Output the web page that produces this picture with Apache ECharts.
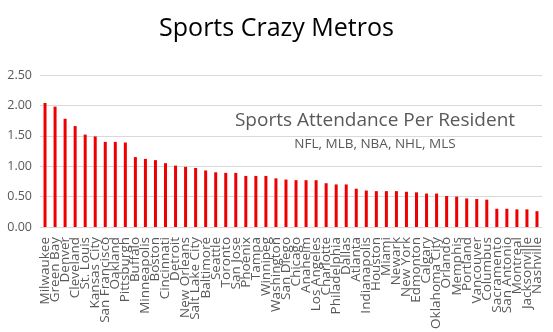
<!DOCTYPE html>
<html>
<head>
<meta charset="utf-8">
<script src="https://cdn.jsdelivr.net/npm/echarts@6/dist/echarts.min.js"></script>
<style>html,body{margin:0;padding:0;background:#fff;}#c{width:553px;height:332px;}</style>
</head>
<body>
<div id="c"></div>
<script>
const categories = ["Milwaukee","Green Bay","Denver","Cleveland","St. Louis","Kansas City","San Francisco","Oakland","Pittsburgh","Buffalo","Minneapolis","Boston","Cincinnati","Detroit","New Orleans","Salt Lake City","Baltimore","Seattle","Toronto","San Jose","Phoenix","Tampa","Winnipeg","Washington","San Diego","Chicago","Anaheim","Los Angeles","Charlotte","Philadelphia","Dallas","Atlanta","Indianapolis","Houston","Miami","Newark","New York","Edmonton","Calgary","Oklahoma City","Orlando","Memphis","Portland","Vancouver","Columbus","Sacramento","San Antonio","Montreal","Jacksonville","Nashville"];
const attendance = [2.04,1.98,1.78,1.66,1.52,1.49,1.40,1.40,1.39,1.15,1.12,1.10,1.05,1.01,0.99,0.97,0.93,0.90,0.89,0.89,0.84,0.84,0.84,0.80,0.78,0.77,0.77,0.77,0.72,0.70,0.70,0.63,0.60,0.59,0.59,0.59,0.58,0.57,0.55,0.55,0.51,0.50,0.47,0.46,0.45,0.30,0.30,0.29,0.29,0.26];
const yTicks = [0, 0.5, 1.0, 1.5, 2.0, 2.5];
const titleText = "Sports Crazy Metros";
const boxTitle = "Sports Attendance Per Resident";
const boxSubtitle = "NFL, MLB, NBA, NHL, MLS";

const FONT = "Open Sans";
const chart = echarts.init(document.getElementById('c'), null, {renderer: 'canvas'});
chart.setOption({
  animation: false,
  backgroundColor: '#fff',
  textStyle: {fontFamily: FONT},
  title: {
    text: titleText,
    left: 'center',
    top: 11,
    textStyle: {fontFamily: FONT, fontSize: 25, fontWeight: 'normal', color: '#000'}
  },
  grid: {left: 40, right: 11, top: 75, bottom: 105, containLabel: false, outerBoundsMode: 'none'},
  xAxis: {
    type: 'category',
    data: categories,
    axisTick: {show: false},
    axisLine: {show: true, lineStyle: {color: '#d9d9d9', width: 1}},
    axisLabel: {interval: 0, rotate: 90, fontSize: 13.5, color: '#595959', fontFamily: FONT, margin: 10}
  },
  yAxis: {
    type: 'value',
    min: yTicks[0],
    max: yTicks[yTicks.length - 1],
    interval: 0.5,
    axisLine: {show: false},
    axisTick: {show: false},
    splitLine: {lineStyle: {color: '#d9d9d9', width: 1}},
    axisLabel: {fontSize: 12.5, color: '#595959', fontFamily: FONT, margin: 8, formatter: v => v.toFixed(2)}
  },
  series: [{
    type: 'bar',
    data: attendance,
    barWidth: 3,
    itemStyle: {color: '#ee0000'}
  }],
  graphic: [{
    type: 'group',
    left: 232,
    top: 96,
    children: [
      {type: 'rect', shape: {x: 0, y: 0, width: 288, height: 64}, style: {fill: '#fff'}},
      {type: 'text', style: {text: boxTitle, x: 143, y: 25, textAlign: 'center', textVerticalAlign: 'middle', font: '19px "Open Sans"', fill: '#595959'}},
      {type: 'text', style: {text: boxSubtitle, x: 143, y: 48, textAlign: 'center', textVerticalAlign: 'middle', font: '13.5px "Open Sans"', fill: '#595959'}}
    ]
  }]
});
</script>
</body>
</html>
